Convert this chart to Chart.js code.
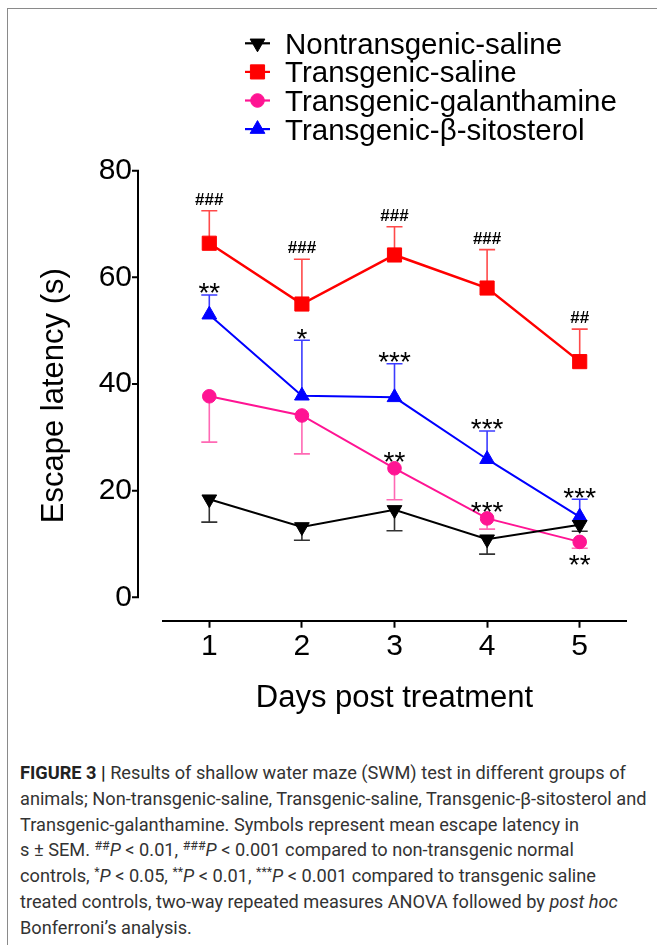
<!DOCTYPE html>
<html>
<head>
<meta charset="utf-8">
<script src="https://cdn.jsdelivr.net/npm/chart.js@4.4.1/dist/chart.umd.min.js"></script>
<style>
html,body{margin:0;padding:0;background:#fff;width:657px;height:945px;overflow:hidden;}
#frame{position:absolute;left:7px;top:8px;width:720px;height:1000px;border-left:1px solid #8a8a8a;border-top:1px solid #8a8a8a;}
#c{position:absolute;left:0;top:0;width:657px;height:740px;}
#cap{position:absolute;left:20px;top:760px;font-family:Roboto,"Liberation Sans",Arial,sans-serif;font-size:16.5px;line-height:25.8px;color:#333;white-space:nowrap;}
#cap .ln{display:block;}
#cap b{color:#222;font-weight:bold;}
#cap sup{font-size:0.68em;line-height:0;vertical-align:0.5em;}
</style>
</head>
<body>
<div id="frame"></div>
<canvas id="c" width="657" height="740"></canvas>
<div id="cap">
<span class="ln"><b>FIGURE 3 |</b> Results of shallow water maze (SWM) test in different groups of</span>
<span class="ln" id="wide">animals; Non-transgenic-saline, Transgenic-saline, Transgenic-β-sitosterol and</span>
<span class="ln">Transgenic-galanthamine. Symbols represent mean escape latency in</span>
<span class="ln">s ± SEM. <sup>##</sup><i>P</i> &lt; 0.01, <sup>###</sup><i>P</i> &lt; 0.001 compared to non-transgenic normal</span>
<span class="ln">controls, <sup>*</sup><i>P</i> &lt; 0.05, <sup>**</sup><i>P</i> &lt; 0.01, <sup>***</sup><i>P</i> &lt; 0.001 compared to transgenic saline</span>
<span class="ln">treated controls, two-way repeated measures ANOVA followed by <i>post hoc</i></span>
<span class="ln">Bonferroni’s analysis.</span>
</div>
<script>
// ---------------- data ----------------
const days = ['1', '2', '3', '4', '5'];
const yTickValues = [0, 20, 40, 60, 80];

const seriesNames = ['Nontransgenic-saline', 'Transgenic-saline', 'Transgenic-galanthamine', 'Transgenic-\u03B2-sitosterol'];

const nontransgenicSaline = [18.4, 13.2, 16.4, 10.9, 13.6];
const nontransgenicSalineSem = [4.3, 2.5, 3.9, 2.8, 1.2];

const transgenicSaline = [66.4, 55.0, 64.2, 58.0, 44.2];
const transgenicSalineSem = [6.1, 8.4, 5.3, 7.2, 6.1];

const transgenicGalanthamine = [37.7, 34.1, 24.2, 14.8, 10.4];
const transgenicGalanthamineSem = [8.6, 7.2, 5.9, 2.0, 1.2];

const transgenicSitosterol = [53.0, 37.8, 37.5, 25.9, 15.1];
const transgenicSitosterolSem = [3.7, 10.4, 6.3, 5.3, 3.3];

// significance marks
const salineSig = ['###', '###', '###', '###', '##'];
const sitosterolSig = ['**', '*', '***', '***', '***'];
const galanthamineSig = ['', '', '**', '***', '**'];
const galanthamineSigSide = ['', '', 'above', 'above', 'below'];

// ---------------- styles ----------------
const FONT = '"Liberation Sans", Arial, Helvetica, sans-serif';
const BLACK = '#000000', RED = '#ff0000', PINK = '#ff1493', BLUE = '#0000ff';

function ds(label, data, color, style, rot, radius, lw, sem, dir, errColor) {
  return {
    label: label, data: data, borderColor: color, backgroundColor: color,
    pointStyle: style, rotation: rot, pointRadius: radius, pointHoverRadius: radius,
    pointBorderWidth: 1, borderWidth: lw, tension: 0, fill: false,
    sem: sem, errDir: dir, errColor: errColor
  };
}

const datasets = [
  ds(seriesNames[0], nontransgenicSaline, BLACK, 'triangle', 180, 8.5, 2, nontransgenicSalineSem, -1, '#333333'),
  ds(seriesNames[1], transgenicSaline, RED, 'rect', 0, 10, 2.5, transgenicSalineSem, 1, '#ff4a4a'),
  ds(seriesNames[2], transgenicGalanthamine, PINK, 'circle', 0, 6.8, 2, transgenicGalanthamineSem, -1, '#ff69b4'),
  ds(seriesNames[3], transgenicSitosterol, BLUE, 'triangle', 0, 8.5, 2, transgenicSitosterolSem, 1, '#3c3cff')
];
datasets[1].sig = salineSig; datasets[1].sigFont = 'bold 17px ' + FONT; datasets[1].sigGap = 12;
datasets[3].sig = sitosterolSig; datasets[3].sigFont = '28px ' + FONT; datasets[3].sigGap = 8.5;
datasets[2].sig = galanthamineSig; datasets[2].sigFont = '28px ' + FONT; datasets[2].sigSide = galanthamineSigSide;

function marker(ctx, style, rot, r, x, y, color) {
  ctx.save();
  ctx.fillStyle = color; ctx.strokeStyle = color; ctx.lineWidth = 1;
  ctx.beginPath();
  if (style === 'rect') {
    const s = r * Math.SQRT1_2;
    ctx.rect(x - s, y - s, 2 * s, 2 * s);
  } else if (style === 'circle') {
    ctx.arc(x, y, r, 0, Math.PI * 2);
  } else {
    let a = rot * Math.PI / 180;
    ctx.moveTo(x + Math.sin(a) * r, y - Math.cos(a) * r);
    a += 2 * Math.PI / 3; ctx.lineTo(x + Math.sin(a) * r, y - Math.cos(a) * r);
    a += 2 * Math.PI / 3; ctx.lineTo(x + Math.sin(a) * r, y - Math.cos(a) * r);
    ctx.closePath();
  }
  ctx.fill(); ctx.stroke();
  ctx.restore();
}

// glyph centre offsets above baseline (em)
function drawCentered(ctx, text, font, x, cy) {
  ctx.font = font;
  const isHash = text.indexOf('#') >= 0;
  const size = parseFloat(font.match(/(\d+(\.\d+)?)px/)[1]);
  const off = isHash ? 0.36 * size : 0.57 * size;
  ctx.textAlign = 'center'; ctx.textBaseline = 'alphabetic';
  ctx.fillText(text, x, cy + off);
}

const decor = {
  id: 'decor',
  beforeDatasetsDraw(chart) {
    const ctx = chart.ctx, y = chart.scales.y;
    chart.data.datasets.forEach((d, i) => {
      const meta = chart.getDatasetMeta(i);
      ctx.save();
      ctx.strokeStyle = d.errColor; ctx.lineWidth = 1.6;
      d.data.forEach((v, j) => {
        const px = meta.data[j].x;
        const p0 = y.getPixelForValue(v);
        const p1 = y.getPixelForValue(v + d.errDir * d.sem[j]);
        ctx.beginPath();
        ctx.moveTo(px, p0); ctx.lineTo(px, p1);
        ctx.moveTo(px - 8, p1); ctx.lineTo(px + 8, p1);
        ctx.stroke();
      });
      ctx.restore();
    });
  },
  afterDatasetsDraw(chart) {
    const ctx = chart.ctx, ys = chart.scales.y, area = chart.chartArea;
    // y axis line (detached, Prism style)
    const ax = area.left - 25;
    ctx.save();
    ctx.strokeStyle = '#000'; ctx.lineWidth = 2;
    ctx.beginPath();
    ctx.moveTo(ax, ys.getPixelForValue(yTickValues[0]) + 1);
    ctx.lineTo(ax, ys.getPixelForValue(yTickValues[yTickValues.length - 1]) - 1);
    yTickValues.forEach(v => {
      const py = ys.getPixelForValue(v);
      ctx.moveTo(ax, py); ctx.lineTo(ax - 6, py);
    });
    ctx.stroke();
    ctx.restore();

    // significance marks
    ctx.save();
    ctx.fillStyle = '#000';
    chart.data.datasets.forEach((d, i) => {
      if (!d.sig) return;
      const meta = chart.getDatasetMeta(i);
      d.data.forEach((v, j) => {
        const t = d.sig[j];
        if (!t) return;
        const px = meta.data[j].x;
        let cy;
        if (d.sigSide) {
          const py = ys.getPixelForValue(v);
          cy = d.sigSide[j] === 'below' ? py + 16.5 : py - 13.5;
        } else {
          cy = ys.getPixelForValue(v + d.errDir * d.sem[j]) - d.sigGap;
        }
        drawCentered(ctx, t, d.sigFont, px, cy);
      });
    });
    ctx.restore();

    // legend
    ctx.save();
    const lx = 245, lw = 25, tx = 285, top = 43.3, gap = 28.6, fs = 29.5;
    chart.data.datasets.forEach((d, i) => {
      const cy = top + i * gap;
      ctx.strokeStyle = d.borderColor; ctx.lineWidth = 2.2;
      ctx.beginPath(); ctx.moveTo(lx, cy); ctx.lineTo(lx + lw, cy); ctx.stroke();
      marker(ctx, d.pointStyle, d.rotation, d.pointRadius, lx + lw / 2, cy, d.borderColor);
      ctx.fillStyle = '#000';
      ctx.font = fs + 'px ' + FONT;
      ctx.textAlign = 'left'; ctx.textBaseline = 'alphabetic';
      ctx.fillText(d.label, tx, cy + 0.358 * fs);
    });
    ctx.restore();
  }
};

new Chart(document.getElementById('c'), {
  type: 'line',
  data: { labels: days, datasets: datasets },
  options: {
    responsive: false,
    animation: false,
    events: [],
    layout: { padding: { top: 170.7, bottom: 23.4, left: 0, right: 31 } },
    plugins: { legend: { display: false }, tooltip: { enabled: false } },
    scales: {
      x: {
        type: 'category', offset: true,
        grid: { drawOnChartArea: false, drawTicks: true, tickLength: 7, tickWidth: 2, tickColor: '#000' },
        border: { display: true, color: '#000', width: 2 },
        ticks: { font: { family: FONT, size: 30 }, color: '#000', padding: 1, maxRotation: 0 },
        title: { display: true, text: 'Days post treatment', font: { family: FONT, size: 31 }, color: '#000', padding: { top: 0, bottom: 0 } },
        afterFit: s => { s.height = 95.9; }
      },
      y: {
        type: 'linear', min: -4.38, max: 80,
        grid: { display: false, drawTicks: false },
        border: { display: false },
        ticks: { stepSize: 20, includeBounds: false, font: { family: FONT, size: 30 }, color: '#000', padding: 31 },
        afterBuildTicks: s => {
          s.ticks = yTickValues.map(v => ({ value: v }));
        },
        title: { display: true, text: 'Escape latency (s)', font: { family: FONT, size: 31 }, color: '#000', padding: { top: 36, bottom: 0 } },
        afterFit: s => { s.width = 163; }
      }
    }
  },
  plugins: [decor]
});

// fit caption width to the reference line length
(function () {
  const cap = document.getElementById('cap');
  const w = document.getElementById('wide').getBoundingClientRect().width;
  const target = 627;
  const fs = 16.5 * target / w;
  cap.style.fontSize = fs.toFixed(2) + 'px';
})();
</script>
</body>
</html>
